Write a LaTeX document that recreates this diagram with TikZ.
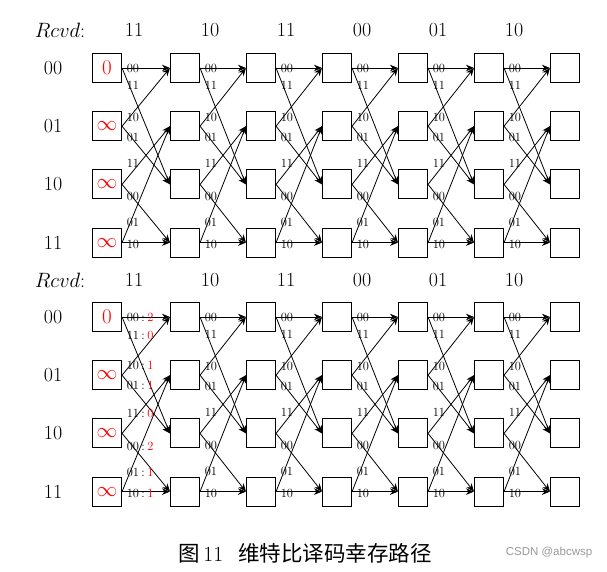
\documentclass[tikz,border=0pt]{standalone}
\usepackage{fontspec}
\newfontfamily\cjk{Noto Sans CJK SC}
\newfontfamily\csdnfont{Liberation Sans}
\usetikzlibrary{arrows.meta,calc}
\definecolor{wmgray}{gray}{0.6}
\begin{document}
\begin{tikzpicture}[x=1pt,y=-1pt,
  st/.style={draw, line width=1.1pt, minimum size=29pt, inner sep=0pt, font=\fontsize{21}{24}\selectfont},
  tr/.style={line width=0.8pt, -{Stealth[length=8pt,width=6.5pt,inset=2.5pt]}},
  el/.style={anchor=west, inner sep=0pt, font=\fontsize{12.5}{14}\selectfont},
  big/.style={inner sep=0pt, font=\fontsize{20}{24}\selectfont}]
\useasboundingbox (0,0) rectangle (607,572);

% states
\foreach \h/\yo in {T/68,B/317} {
  \foreach \c in {0,...,6} {
    \foreach \r in {0,...,3} {
      \pgfmathsetmacro\xx{\c==0 ? 107 : 109+76*\c}
      \pgfmathsetmacro\yy{\yo+58.2*\r}
      \node[st] (\h\c\r) at (\xx,\yy)
        {\ifnum\c=0 \textcolor{red}{\ifnum\r=0 0\else$\infty$\fi}\fi};
    }
  }
}

% row labels, Rcvd labels
\foreach \h/\yo/\ry in {T/68/30,B/317/280} {
  \foreach \r/\s in {0/00,1/01,2/10,3/11} {
    \node[big] (lab\h\r) at (53,\yo+58.2*\r) {\s};
  }
  \node[big] (rcvd\h) at (60,\ry) {$Rcvd$:};
  \foreach \k/\s in {0/11,1/10,2/11,3/00,4/01,5/10} {
    \node[big] (rx\h\k) at (134+76*\k,\ry) {\s};
  }
}

% transitions
\foreach \h in {T,B} {
  \foreach \c [evaluate=\c as \n using int(\c+1)] in {0,...,5} {
    \foreach \f/\t in {0/0,0/2,1/0,1/2,2/1,2/3,3/1,3/3} {
      \draw[tr] (\h\c\f.east) -- (\h\n\t.west);
    }
  }
}

% branch labels
\foreach \h/\cs in {T/{0,...,5},B/{1,...,5}} {
  \foreach \c in \cs {
    \foreach \f/\l/\dy in {0/00/0, 0/11/17, 1/10/-9, 1/01/11, 2/11/-21, 2/00/12, 3/01/-20, 3/10/2} {
      \node[el] at ($(\h\c\f.east)+(4.5,\dy)$) {\l};
    }
  }
}
\foreach \f/\l/\dy/\s in {0/00/0/2, 0/11/18/0, 1/10/-10/1, 1/01/10/1, 2/11/-20/0, 2/00/13/2, 3/01/-19/1, 3/10/2/1} {
  \node[el] at ($(B0\f.east)+(4.5,\dy)$) {\l\hspace{0.2em}:\hspace{0.2em}\textcolor{red}{\s}};
}

% caption
\node[inner sep=0pt, font=\fontsize{21.5}{24}\selectfont] (cap) at (305,553)
  {{\cjk 图}\,11\hspace{0.7em}{\cjk 维特比译码幸存路径}};
\node[inner sep=0pt, text=wmgray, font=\csdnfont\fontsize{11.5}{13}\selectfont] (wm) at (549,553) {CSDN @abcwsp};
\end{tikzpicture}
\end{document}
